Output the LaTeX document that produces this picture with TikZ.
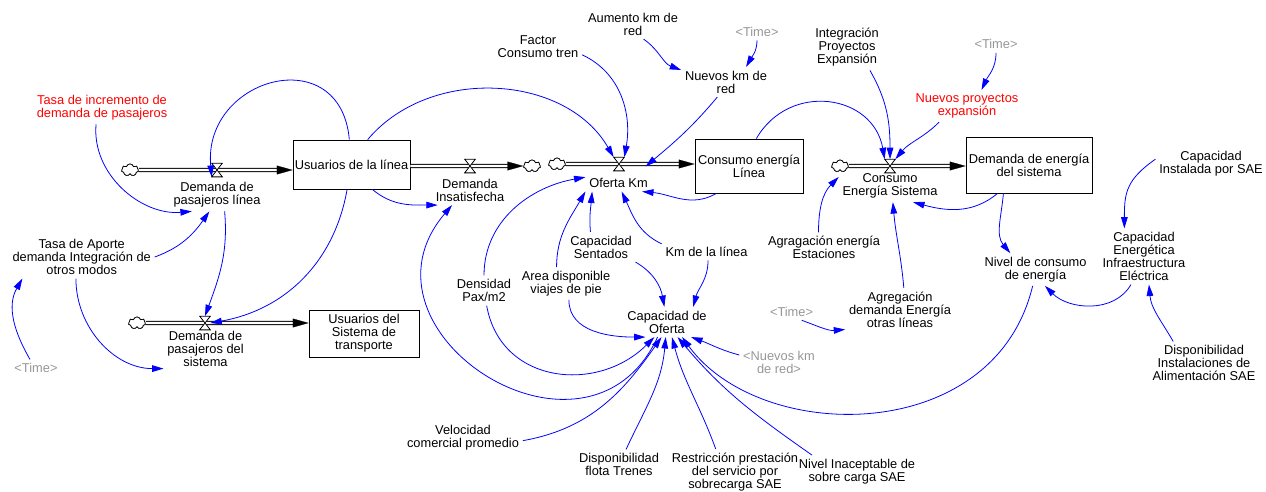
\documentclass[tikz,border=0pt]{standalone}
\usepackage{fontspec}
\setmainfont{Liberation Sans}
\usetikzlibrary{arrows.meta, shapes.symbols}

\definecolor{linkblue}{RGB}{0,0,255}
\definecolor{timegray}{RGB}{150,150,150}

\begin{document}
\begin{tikzpicture}[x=0.02cm, y=0.02cm,
  aux/.style={align=center, inner sep=2pt, font=\fontsize{7.3}{7.4}\selectfont},
  timevar/.style={aux, text=timegray},
  levelbox/.style={draw, line width=0.5pt, align=center, inner sep=1pt, font=\fontsize{7.3}{7.4}\selectfont},
  pipe/.style={double, double distance=1.4pt, line width=0.5pt, shorten >=4.5pt},
  pipehead/.style={white, line width=0.1pt, -{Triangle[length=9pt, width=5pt, color=black, fill=black]}},
  valve/.style={minimum width=0.2cm, minimum height=0.26cm, inner sep=0pt},
  sourcesink/.style={cloud, cloud puffs=7, draw, fill=white, line width=0.4pt, inner sep=0pt, minimum width=0.34cm, minimum height=0.24cm},
  link/.style={linkblue, line width=0.45pt, -{Triangle[length=6.5pt, width=3.8pt]}}]
  \useasboundingbox (0,0) rectangle (1266,-491);

  % niveles
  \node[levelbox, minimum width=2.22cm, minimum height=0.98cm] (usrLinea) at (351.5,-164.5) {Usuarios de la línea};
  \node[levelbox, minimum width=2.2cm, minimum height=0.94cm] (usrSistema) at (364,-333.5) {Usuarios del\\Sistema de\\transporte};
  \node[levelbox, minimum width=2.16cm, minimum height=1.08cm] (consLinea) at (749,-166) {Consumo energía\\Línea};
  \node[levelbox, minimum width=2.52cm, minimum height=1.12cm] (demEnergia) at (1029,-165) {Demanda de energía\\del sistema};

  % nubes y valvulas
  \node[sourcesink] (c1) at (130,-170) {};
  \node[sourcesink] (c2) at (532,-166) {};
  \node[sourcesink] (c3) at (557,-164) {};
  \node[sourcesink] (c4) at (840,-166) {};
  \node[sourcesink] (c5) at (137,-323) {};
  \node[valve] (v1) at (217,-170) {};
  \node[valve] (v2) at (470,-166) {};
  \node[valve] (v3) at (619,-164) {};
  \node[valve] (v4) at (890,-166) {};
  \node[valve] (v5) at (205,-323) {};

  \draw[pipe] (c1.east) -- (c1 -| usrLinea.west);
  \draw[pipe] (usrLinea.east |- c2) -- (c2.west);
  \draw[pipe] (c3.east) -- (c3 -| consLinea.west);
  \draw[pipe] (c4.east) -- (c4 -| demEnergia.west);
  \draw[pipe] (c5.east) -- (c5 -| usrSistema.west);
  \draw[pipehead] (c1.east) -- (c1 -| usrLinea.west);
  \draw[pipehead] (usrLinea.east |- c2) -- (c2.west);
  \draw[pipehead] (c3.east) -- (c3 -| consLinea.west);
  \draw[pipehead] (c4.east) -- (c4 -| demEnergia.west);
  \draw[pipehead] (c5.east) -- (c5 -| usrSistema.west);
  \foreach \v in {v1,v2,v3,v4,v5}
    \filldraw[fill=white, line width=0.45pt] (\v.north west) -- (\v.north east) -- (\v.south west) -- (\v.south east) -- cycle;
  \foreach \c in {c1,c2,c3,c4,c5}
    \node[sourcesink] at (\c) {};

  % flujos
  \node[aux] (dpl) at (217,-195) {Demanda de\\pasajeros línea};
  \node[aux] (dins) at (470,-190) {Demanda\\Insatisfecha};
  \node[aux] (ofkm) at (618.5,-183) {Oferta Km};
  \node[aux] (ces) at (890,-186) {Consumo\\Energía Sistema};
  \node[aux] (dps) at (205.5,-349) {Demanda de\\pasajeros del\\sistema};

  % variables
  \node[aux, text=red] (tasaInc) at (102,-108) {Tasa de incremento de\\demanda de pasajeros};
  \node[aux] (tasaAp) at (81.7,-257) {Tasa de Aporte\\demanda Integración de\\otros modos};
  \node[timevar] (time1) at (36,-368) {<Time>};
  \node[aux] (factor) at (538,-47) {Factor\\Consumo tren};
  \node[aux] (aumento) at (633,-24) {Aumento km de\\red};
  \node[timevar] (time2) at (757,-31.7) {<Time>};
  \node[aux] (nuevosKm) at (726,-82) {Nuevos km de\\red};
  \node[aux] (integ) at (847,-47.5) {Integración\\Proyectos\\Expansión};
  \node[timevar] (time3) at (996,-44.3) {<Time>};
  \node[aux, text=red] (nuevosProy) at (967,-106) {Nuevos proyectos\\expansión};
  \node[aux] (capInst) at (1211,-164) {Capacidad\\Instalada por SAE};
  \node[aux] (capEner) at (1144,-256.5) {Capacidad\\Energética\\Infraestructura\\Eléctrica};
  \node[aux] (dispInst) at (1204,-363) {Disponibilidad\\Instalaciones de\\Alimentación SAE};
  \node[aux] (nivelCons) at (1035.5,-269.5) {Nivel de consumo\\de energía};
  \node[aux] (agrEst) at (824,-247.5) {Agragación energía\\Estaciones};
  \node[aux] (agrOtras) at (900,-309.5) {Agregación\\demanda Energía\\otras líneas};
  \node[timevar] (time4) at (791.5,-311.7) {<Time>};
  \node[aux] (capSent) at (601,-247) {Capacidad\\Sentados};
  \node[aux] (kmLinea) at (706.5,-251.7) {Km de la línea};
  \node[aux] (densidad) at (484,-290.5) {Densidad\\Pax/m2};
  \node[aux] (area) at (566,-283.5) {Area disponible\\viajes de pie};
  \node[aux] (capOf) at (667,-322) {Capacidad de\\Oferta};
  \node[timevar] (nuevosKmSh) at (779,-362) {<Nuevos km\\de red>};
  \node[aux] (velocidad) at (463,-437.5) {Velocidad\\comercial promedio};
  \node[aux] (dispFlota) at (619,-464.5) {Disponibilidad\\flota Trenes};
  \node[aux] (restric) at (735,-472) {Restricción prestación\\del servicio por\\sobrecarga SAE};
  \node[aux] (nivelInac) at (857,-471.5) {Nivel Inaceptable de\\sobre carga SAE};

  % enlaces
  \draw[link] (tasaInc.250) to[out=265, in=185] (dpl.213);
  \draw[link] (usrLinea.95) to[out=95, in=95, looseness=1.8] (v1.south west);
  \draw[link] (tasaAp.east) to[out=20, in=235] (dpl.245);
  \draw[link] (dpl.295) to[out=-85, in=70] (v5.north);
  \draw[link] (usrLinea.260) to[out=-100, in=10] (v5.east);
  \draw[link] (tasaAp.255) to[out=-90, in=180] (dps.205);
  \draw[link] (time1.125) to[out=120, in=240] (tasaAp.200);
  \draw[link] (usrLinea.57) to[out=50, in=120] (v3.north west);
  \draw[link] (usrLinea.-50) to[out=-40, in=180] (dins.205);
  \draw[link] (capOf.238) .. controls +(-70,-151) and +(-108,-127) .. (dins.220);
  \draw[link] (densidad.north) to[out=90, in=190] (ofkm.170);
  \draw[link] (densidad.-80) to[out=-80, in=225, looseness=1.2] (capOf.230);
  \draw[link] (area.120) to[out=90, in=240] (ofkm.south west);
  \draw[link] (area.-80) to[out=-90, in=180] (capOf.215);
  \draw[link] (capSent.125) to[out=95, in=265] (ofkm.198);
  \draw[link] (capSent.south east) to[out=-30, in=100] (capOf.100);
  \draw[link] (kmLinea.170) to[out=155, in=-65] (ofkm.-70);
  \draw[link] (kmLinea.-80) to[out=-90, in=75] (capOf.30);
  \draw[link] (consLinea.220) to[out=-150, in=-5] (ofkm.-20);
  \draw[link] (factor.-10) to[out=-25, in=80] (v3.north east);
  \draw[link] (aumento.-55) to[out=-35, in=160] (nuevosKm.165);
  \draw[link] (time2.south) to[out=-90, in=60] (nuevosKm.37);
  \draw[link] (nuevosKm.240) to[out=230, in=40] ([shift={(-6,8)}]ofkm.north east);
  \draw[link] (consLinea.75) to[out=60, in=100, looseness=1.3] (v4.north west);
  \draw[link] (integ.-45) to[out=-60, in=90] (v4.north);
  \draw[link] (nuevosProy.210) to[out=225, in=50] (v4.north east);
  \draw[link] (time3.south) to[out=-90, in=65] (nuevosProy.48);
  \draw[link] (agrEst.110) to[out=90, in=225] (ces.170);
  \draw[link] (agrOtras.80) to[out=95, in=-85] (ces.-80);
  \draw[link] (demEnergia.222) to[out=-140, in=-15] (ces.-35);
  \draw[link] (demEnergia.228) to[out=-95, in=130] (nivelCons.147);
  \draw[link] (time4.-40) to[out=-20, in=185] (agrOtras.200);
  \draw[link] (capInst.175) to[out=215, in=90, looseness=1.2] (capEner.125);
  \draw[link] (capEner.245) to[out=-120, in=-45] (nivelCons.-60);
  \draw[link] (dispInst.145) to[out=120, in=-85] (capEner.-80);
  \draw[link] (nivelCons.-100) .. controls +(-38,-160) and +(79,-108) .. (capOf.-45);
  \draw[link] (nivelInac.160) to[out=145, in=-50] (capOf.-55);
  \draw[link] (restric.130) to[out=110, in=-75] (capOf.-72);
  \draw[link] (dispFlota.65) to[out=65, in=-95] (capOf.-95);
  \draw[link] (velocidad.-3) to[out=10, in=235] (capOf.-110);
  \draw[link] (nuevosKmSh.170) to[out=165, in=-20] (capOf.-32);
\end{tikzpicture}
\end{document}
